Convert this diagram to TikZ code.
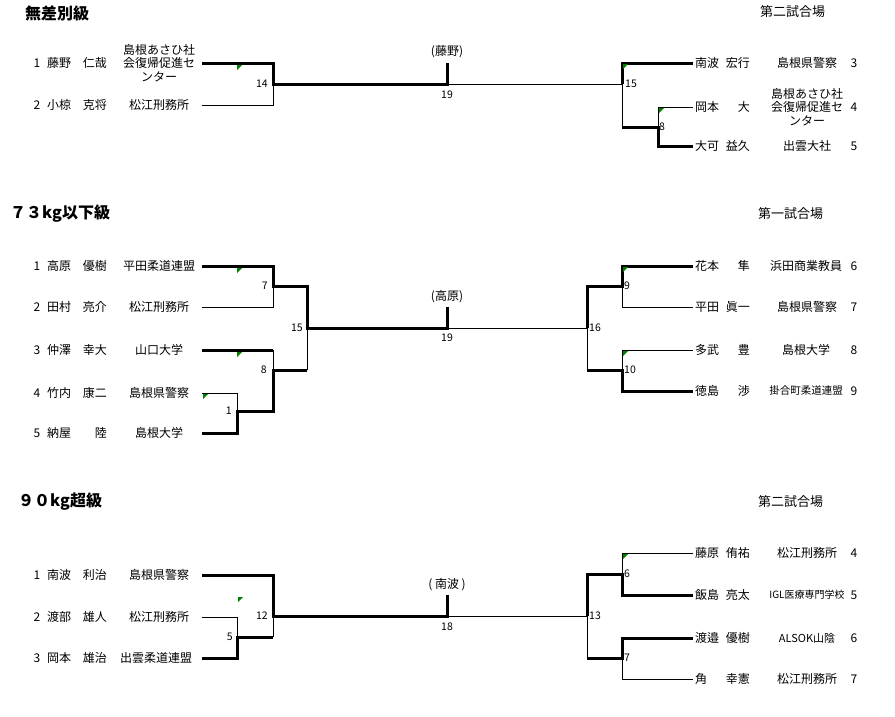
\documentclass[tikz,border=0pt]{standalone}
\usepackage{fontspec}
\setmainfont{Noto Sans CJK JP}
\newfontfamily\jp{Noto Sans CJK JP}
\begin{document}
\begin{tikzpicture}[x=1pt,y=-1pt,
  thk/.style={line width=3pt},
  thn/.style={line width=0.9pt},
  nm/.style={font=\jp\fontsize{12}{13.5}\selectfont, inner sep=0pt},
  nw/.style={nm, anchor=west},
  ne/.style={nm, anchor=east},
  org/.style={nm, align=center},
  lb/.style={font=\jp\fontsize{10.5}{12}\selectfont, inner sep=0pt},
  lbe/.style={lb, anchor=east},
  lbw/.style={lb, anchor=west},
  ttl/.style={font=\jp\bfseries\fontsize{16}{18}\selectfont, inner sep=0pt, anchor=west},
  ven/.style={font=\jp\fontsize{13}{15}\selectfont, inner sep=0pt, anchor=west},
  mk/.style={fill=green!50!black, draw=none}]
\useasboundingbox[fill=white] (0,0) rectangle (895,716);

% ---------- titles ----------
\node[ttl] (t1) at (25,13) {無差別級};
\node[ven] (v1) at (760,12) {第二試合場};
\node[ttl] (t2) at (10,214) {７３kg以下級};
\node[ven] (v2) at (758,214) {第一試合場};
\node[ttl] (t3) at (18,502) {９０kg超級};
\node[ven] (v3) at (758,502) {第二試合場};

% ================= Section 1 =================
\coordinate (A1) at (202,63);  \coordinate (A1c) at (273,63);
\coordinate (A2) at (202,105); \coordinate (A2c) at (273,105);
\coordinate (A14) at (273,84);
\coordinate (A19) at (447,84); \coordinate (A19t) at (447,63);
\coordinate (A15) at (622,84); \coordinate (A15t) at (622,63); \coordinate (A15b) at (622,127);
\coordinate (A8) at (658,127); \coordinate (A8t) at (658,107); \coordinate (A8b) at (658,146);
\coordinate (A3e) at (693,63); \coordinate (A4e) at (693,107); \coordinate (A5e) at (693,146);

\draw[thk] (A1) -- (A1c) -- (A14) -- (A19) -- (A19t);
\draw[thn] (A2) -- (A2c) -- (A14);
\draw[thn] (A19) -- (A15) -- (A15b);
\draw[thk] (A3e) -- (A15t) -- (A15);
\draw[thk] (A15b) -- (A8) -- (A8b) -- (A5e);
\draw[thn] (A8) -- (A8t) -- (A4e);

\fill[mk] (237,65) -- ++(5,0) -- ++(-5,5) -- cycle;
\fill[mk] (623,64) -- ++(5,0) -- ++(-5,5) -- cycle;
\fill[mk] (659,108) -- ++(5,0) -- ++(-5,5) -- cycle;

\node[nm] (a1n) at (37,63) {1};
\node[nw] (a1f) at (47,63) {藤野};
\node[ne] (a1g) at (107,63) {仁哉};
\node[org] (a1o) at (159,63) {島根あさひ社\\会復帰促進セ\\ンター};
\node[nm] (a2n) at (37,105) {2};
\node[nw] (a2f) at (47,105) {小椋};
\node[ne] (a2g) at (107,105) {克将};
\node[org] (a2o) at (159,105) {松江刑務所};

\node[lbe] (l14) at (268,84) {14};
\node[nm] (w19a) at (447,52) {(藤野)};
\node[lb] (l19a) at (447,95) {19};
\node[lbw] (l15a) at (625,84) {15};
\node[lbw] (l8a) at (659,127) {8};

\node[nw] (a3f) at (695,63) {南波};
\node[ne] (a3g) at (750,63) {宏行};
\node[org] (a3o) at (807,63) {島根県警察};
\node[nm] (a3n) at (854,63) {3};
\node[nw] (a4f) at (695,107) {岡本};
\node[ne] (a4g) at (750,107) {大};
\node[org] (a4o) at (807,107) {島根あさひ社\\会復帰促進セ\\ンター};
\node[nm] (a4n) at (854,107) {4};
\node[nw] (a5f) at (695,146) {大可};
\node[ne] (a5g) at (750,146) {益久};
\node[org] (a5o) at (807,146) {出雲大社};
\node[nm] (a5n) at (854,146) {5};

% ================= Section 2 =================
\coordinate (B1) at (202,266); \coordinate (B1c) at (273,266);
\coordinate (B7) at (273,286); \coordinate (B7r) at (307,286);
\coordinate (B2) at (202,307); \coordinate (B2c) at (273,307);
\coordinate (B3) at (202,350); \coordinate (B3c) at (273,350);
\coordinate (B8r) at (273,370); \coordinate (B15) at (307,328); \coordinate (B15b) at (307,370);
\coordinate (B1m) at (273,411); \coordinate (B1j) at (237,411);
\coordinate (B4) at (202,393); \coordinate (B4c) at (237,393);
\coordinate (B5) at (202,433); \coordinate (B5c) at (237,433);
\coordinate (B19) at (447,328); \coordinate (B19t) at (447,307);
\coordinate (B16) at (587,328); \coordinate (B16t) at (587,286); \coordinate (B16b) at (587,370);
\coordinate (B9) at (622,286); \coordinate (B9t) at (622,266); \coordinate (B9b) at (622,307);
\coordinate (B10) at (622,370); \coordinate (B10t) at (622,350); \coordinate (B10b) at (622,391);
\coordinate (B6e) at (693,266); \coordinate (B7e) at (693,307); \coordinate (B8e) at (693,350); \coordinate (B9e) at (693,391);

\draw[thk] (B1) -- (B1c) -- (B7) -- (B7r) -- (B15) -- (B19) -- (B19t);
\draw[thn] (B2) -- (B2c) -- (B7);
\draw[thk] (B3) -- (B3c);
\draw[thn] (B3c) -- (B8r);
\draw[thk] (B5) -- (B5c) -- (B1j) -- (B1m) -- (B8r) -- (B15b);
\draw[thn] (B15) -- (B15b);
\draw[thn] (B4) -- (B4c) -- (B1j);
\draw[thn] (B19) -- (B16);
\draw[thk] (B6e) -- (B9t) -- (B9) -- (B16t) -- (B16);
\draw[thn] (B16) -- (B16b);
\draw[thk] (B16b) -- (B10) -- (B10b) -- (B9e);
\draw[thn] (B9) -- (B9b) -- (B7e);
\draw[thn] (B10) -- (B10t) -- (B8e);

\fill[mk] (237,268) -- ++(5,0) -- ++(-5,5) -- cycle;
\fill[mk] (237,352) -- ++(5,0) -- ++(-5,5) -- cycle;
\fill[mk] (203,394) -- ++(5,0) -- ++(-5,5) -- cycle;
\fill[mk] (623,267) -- ++(5,0) -- ++(-5,5) -- cycle;
\fill[mk] (623,351) -- ++(5,0) -- ++(-5,5) -- cycle;

\node[nm] (b1n) at (37,266) {1};
\node[nw] (b1f) at (47,266) {高原};
\node[ne] (b1g) at (107,266) {優樹};
\node[org] (b1o) at (159,266) {平田柔道連盟};
\node[nm] (b2n) at (37,307) {2};
\node[nw] (b2f) at (47,307) {田村};
\node[ne] (b2g) at (107,307) {亮介};
\node[org] (b2o) at (159,307) {松江刑務所};
\node[nm] (b3n) at (37,350) {3};
\node[nw] (b3f) at (47,350) {仲澤};
\node[ne] (b3g) at (107,350) {幸大};
\node[org] (b3o) at (159,350) {山口大学};
\node[nm] (b4n) at (37,393) {4};
\node[nw] (b4f) at (47,393) {竹内};
\node[ne] (b4g) at (107,393) {康二};
\node[org] (b4o) at (159,393) {島根県警察};
\node[nm] (b5n) at (37,433) {5};
\node[nw] (b5f) at (47,433) {納屋};
\node[ne] (b5g) at (107,433) {陸};
\node[org] (b5o) at (159,433) {島根大学};

\node[lbe] (l7b) at (268,286) {7};
\node[lbe] (l15b) at (303,328) {15};
\node[lbe] (l8b) at (267,370) {8};
\node[lbe] (l1b) at (232,411) {1};
\node[nm] (w19b) at (447,297) {(高原)};
\node[lb] (l19b) at (447,338) {19};
\node[lbw] (l9b) at (624,286) {9};
\node[lbw] (l16b) at (589,328) {16};
\node[lbw] (l10b) at (624,370) {10};

\node[nw] (b6f) at (695,266) {花本};
\node[ne] (b6g) at (750,266) {隼};
\node[org] (b6o) at (806,266) {浜田商業教員};
\node[nm] (b6n) at (854,266) {6};
\node[nw] (b7f) at (695,307) {平田};
\node[ne] (b7g) at (750,307) {眞一};
\node[org] (b7o) at (807,307) {島根県警察};
\node[nm] (b7n) at (854,307) {7};
\node[nw] (b8f) at (695,350) {多武};
\node[ne] (b8g) at (750,350) {豊};
\node[org] (b8o) at (806,350) {島根大学};
\node[nm] (b8n) at (854,350) {8};
\node[nw] (b9f) at (695,391) {徳島};
\node[ne] (b9g) at (750,391) {渉};
\node[org, font=\jp\fontsize{10.5}{12}\selectfont] (b9o) at (806,391) {掛合町柔道連盟};
\node[nm] (b9n) at (854,391) {9};

% ================= Section 3 =================
\coordinate (C1) at (202,575); \coordinate (C1c) at (273,575);
\coordinate (C12) at (273,616); \coordinate (C12b) at (273,637);
\coordinate (C5) at (237,637);
\coordinate (C2) at (202,617); \coordinate (C2c) at (237,617);
\coordinate (C3) at (202,658); \coordinate (C3c) at (237,658);
\coordinate (C18) at (447,616); \coordinate (C18t) at (447,595);
\coordinate (C13) at (587,616); \coordinate (C13t) at (587,574); \coordinate (C13b) at (587,658);
\coordinate (C6) at (622,574); \coordinate (C6t) at (622,553); \coordinate (C6b) at (622,595);
\coordinate (C7) at (622,658); \coordinate (C7t) at (622,638); \coordinate (C7b) at (622,679);
\coordinate (C4e) at (693,553); \coordinate (C5e) at (693,595); \coordinate (C6e) at (693,638); \coordinate (C7e) at (693,679);

\draw[thk] (C1) -- (C1c) -- (C12) -- (C18) -- (C18t);
\draw[thn] (C12) -- (C12b);
\draw[thk] (C12b) -- (C5) -- (C3c) -- (C3);
\draw[thn] (C2) -- (C2c) -- (C5);
\draw[thn] (C18) -- (C13);
\draw[thk] (C5e) -- (C6b) -- (C6) -- (C13t) -- (C13);
\draw[thn] (C13) -- (C13b);
\draw[thk] (C13b) -- (C7) -- (C7t) -- (C6e);
\draw[thn] (C6) -- (C6t) -- (C4e);
\draw[thn] (C7) -- (C7b) -- (C7e);

\fill[mk] (238,597) -- ++(5,0) -- ++(-5,5) -- cycle;
\fill[mk] (623,554) -- ++(5,0) -- ++(-5,5) -- cycle;

\node[nm] (c1n) at (37,575) {1};
\node[nw] (c1f) at (47,575) {南波};
\node[ne] (c1g) at (107,575) {利治};
\node[org] (c1o) at (159,575) {島根県警察};
\node[nm] (c2n) at (37,617) {2};
\node[nw] (c2f) at (47,617) {渡部};
\node[ne] (c2g) at (107,617) {雄人};
\node[org] (c2o) at (159,617) {松江刑務所};
\node[nm] (c3n) at (37,658) {3};
\node[nw] (c3f) at (47,658) {岡本};
\node[ne] (c3g) at (107,658) {雄治};
\node[org] (c3o) at (156,658) {出雲柔道連盟};

\node[lbe] (l12c) at (268,616) {12};
\node[lbe] (l5c) at (233,637) {5};
\node[nm] (w18c) at (447,585) {( 南波 )};
\node[lb] (l18c) at (447,627) {18};
\node[lbw] (l6c) at (624,574) {6};
\node[lbw] (l13c) at (589,616) {13};
\node[lbw] (l7c) at (624,658) {7};

\node[nw] (c4f) at (695,553) {藤原};
\node[ne] (c4g) at (750,553) {侑祐};
\node[org] (c4o) at (807,553) {松江刑務所};
\node[nm] (c4n) at (854,553) {4};
\node[nw] (c5f) at (695,595) {飯島};
\node[ne] (c5g) at (750,595) {亮太};
\node[org, font=\jp\fontsize{10}{12}\selectfont] (c5o) at (807,595) {IGL医療専門学校};
\node[nm] (c5n) at (854,595) {5};
\node[nw] (c6f) at (695,638) {渡邉};
\node[ne] (c6g) at (750,638) {優樹};
\node[org, font=\jp\fontsize{11}{12}\selectfont] (c6o) at (807,638) {ALSOK山陰};
\node[nm] (c6n) at (854,638) {6};
\node[nw] (c7f) at (695,679) {角};
\node[ne] (c7g) at (750,679) {幸憲};
\node[org] (c7o) at (807,679) {松江刑務所};
\node[nm] (c7n) at (854,679) {7};
\end{tikzpicture}
\end{document}
